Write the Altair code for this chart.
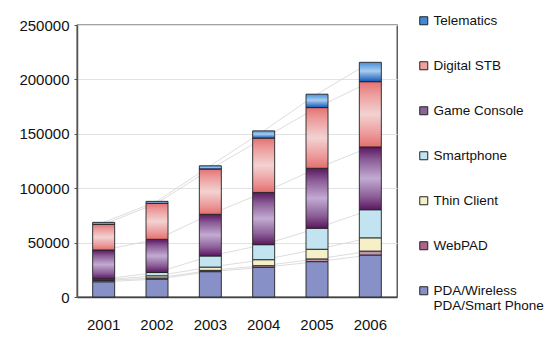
import altair as alt
import pandas as pd

years = ["2001", "2002", "2003", "2004", "2005", "2006"]
series_order = ["PDA/Wireless PDA/Smart Phone", "WebPAD", "Thin Client", "Smartphone",
                "Game Console", "Digital STB", "Telematics"]
pda = [14000, 16500, 23300, 27300, 32500, 38600]
webpad = [1200, 1000, 1200, 1500, 2500, 3600]
thin_client = [600, 2000, 3000, 5500, 8900, 12200]
smartphone = [800, 3000, 10200, 13800, 19300, 25800]
game_console = [26600, 30500, 38300, 48000, 55100, 57700]
digital_stb = [23600, 33100, 41600, 49900, 55800, 60000]
telematics = [1800, 1800, 3000, 6700, 12300, 17800]
y_ticks = [0, 50000, 100000, 150000, 200000, 250000]

values = [pda, webpad, thin_client, smartphone, game_console, digital_stb, telematics]
rows = []
for i, (name, vals) in enumerate(zip(series_order, values)):
    for y, v in zip(years, vals):
        rows.append({"year": y, "series": name, "value": v, "order": i})
df = pd.DataFrame(rows)


def grad(stops):
    return {"gradient": "linear", "x1": 0, "y1": 0, "x2": 0, "y2": 1,
            "stops": [{"offset": o, "color": c} for o, c in stops]}


fills = {
    "PDA/Wireless PDA/Smart Phone": "#8890c8",
    "WebPAD": "#c096ae",
    "Thin Client": "#f5f0c8",
    "Smartphone": "#c2e4f0",
    "Game Console": grad([(0, "#5a175e"), (0.2, "#8a5c96"), (0.5, "#c2abd2"), (0.8, "#8a5c96"), (1, "#5a175e")]),
    "Digital STB": grad([(0, "#e47272"), (0.18, "#ec9a9a"), (0.5, "#f3d2d2"), (0.82, "#ec9696"), (1, "#e46e6e")]),
    "Telematics": grad([(0, "#4a8ed8"), (0.45, "#a8cdf0"), (1, "#1259b8")]),
}

legend_order = ["Telematics", "Digital STB", "Game Console", "Smartphone", "Thin Client",
                "WebPAD", "PDA/Wireless PDA/Smart Phone"]
legend_colors = ["#3f8ad8", "#f0a0a0", "#8a6494", "#c2e4f0", "#f5f0c8", "#a8668a", "#8890c8"]

FONT = "Liberation Sans"

x_enc = alt.X("year:N", scale=alt.Scale(paddingInner=0, paddingOuter=0),
              axis=alt.Axis(title=None, labelAngle=0, ticks=False, tickSize=0, labelPadding=20,
                            labelFontSize=15, labelColor="#111", domainColor="#444",
                            domainWidth=1.5, labelFont=FONT))
y_scale = alt.Scale(domain=[0, 250000], nice=False)
y_enc = alt.Y("y1:Q", scale=y_scale,
              axis=alt.Axis(title=None, values=y_ticks, format="d", labelFontSize=15,
                            labelColor="#111", labelFont=FONT, tickSize=3, tickColor="#555",
                            domainColor="#555", domainWidth=1.5, labelPadding=5,
                            gridColor="#e2e2e2", gridWidth=1))

base = alt.Chart(df).transform_stack(
    stack="value", groupby=["year"], as_=["y0", "y1"],
    sort=[alt.SortField("order", order="ascending")])

lines = base.mark_line(color="#d4d4d4", strokeWidth=0.8).encode(
    x=x_enc, y=y_enc, detail="series:N")

layers = [lines]
for s in series_order:
    layers.append(
        base.transform_filter(alt.datum.series == s)
        .mark_bar(fill=fills[s], stroke="#222", strokeWidth=0.9, width=22)
        .encode(x=x_enc, y=y_enc, y2="y0:Q")
    )

legend_layer = base.transform_filter(alt.datum.value < 0).mark_square(size=0).encode(
    x=x_enc, y=y_enc,
    color=alt.Color("series:N",
                    scale=alt.Scale(domain=legend_order, range=legend_colors),
                    legend=alt.Legend(title=None, orient="none", legendX=340, legendY=-11,
                                      symbolType="square", symbolSize=64,
                                      symbolStrokeColor="#222", symbolStrokeWidth=1,
                                      symbolOpacity=1, labelFontSize=13.5, labelFont=FONT,
                                      labelColor="#111", rowPadding=30, labelOffset=3,
                                      padding=0, labelLimit=200,
                                      labelExpr="datum.label == 'PDA/Wireless PDA/Smart Phone' ? ['PDA/Wireless', 'PDA/Smart Phone'] : datum.label")))
layers.append(legend_layer)

chart = alt.layer(*layers).properties(
    width=320, height=272, autosize="none",
    padding={"left": 77, "top": 25, "right": 153, "bottom": 47},
    background="white",
).configure_view(stroke="#444", strokeWidth=1.3)

chart.save("out.html", embed_options={"renderer": "svg", "actions": False})
